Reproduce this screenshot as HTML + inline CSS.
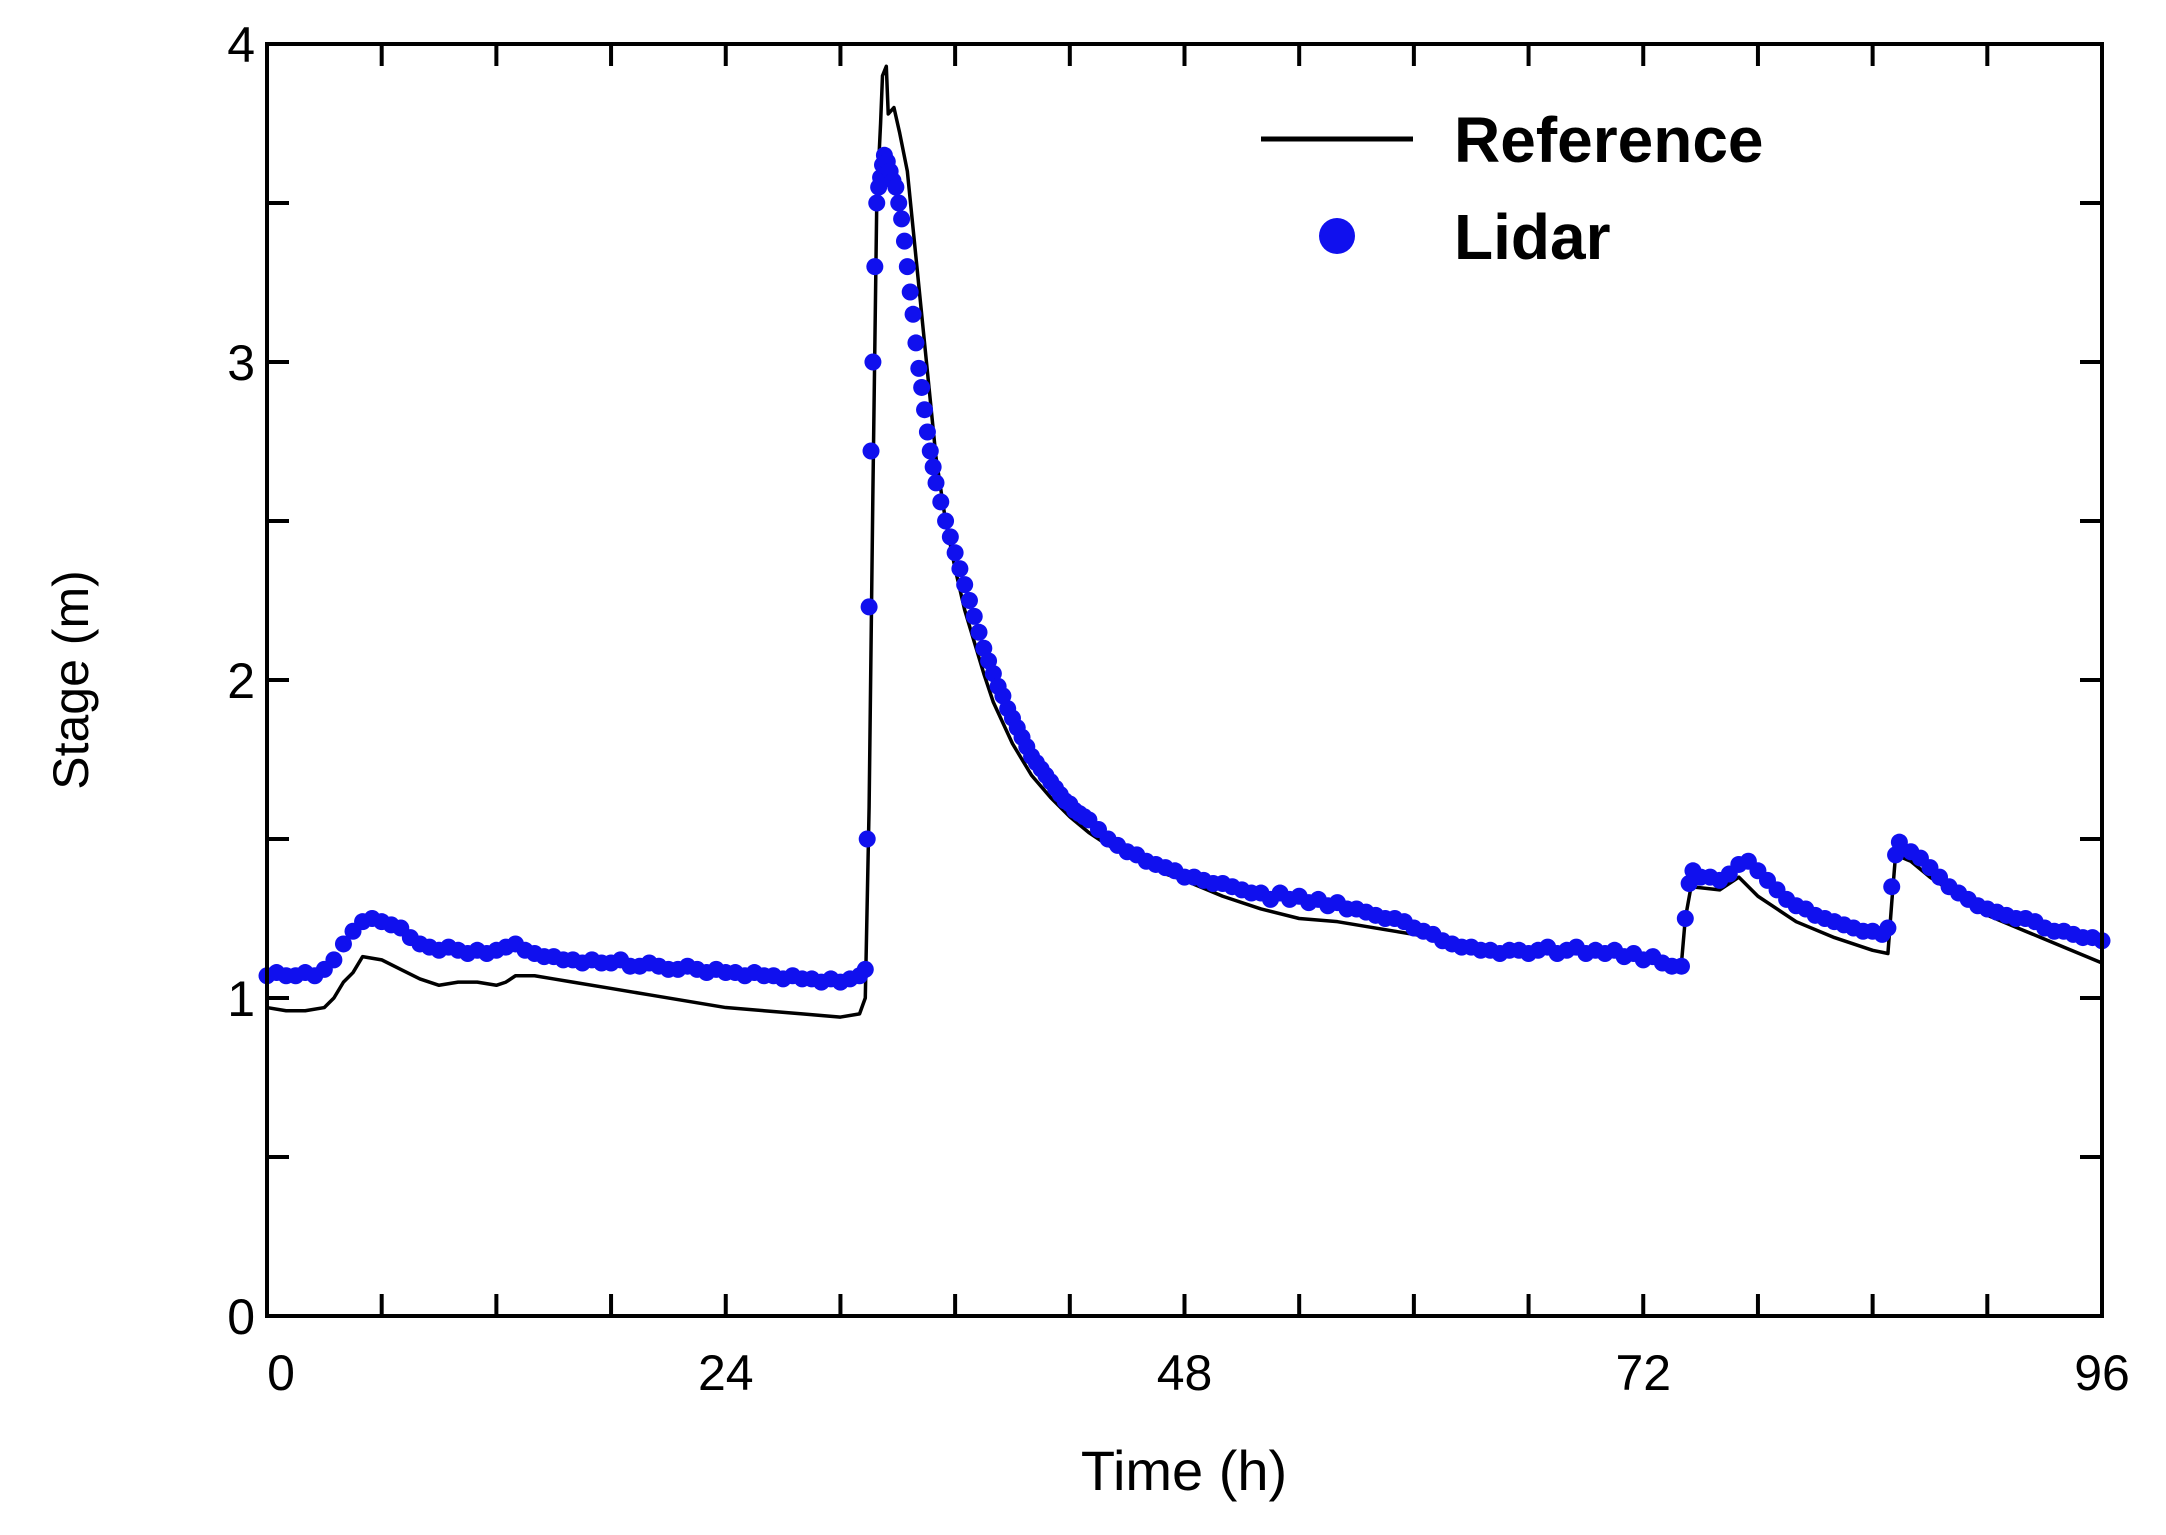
<!DOCTYPE html>
<html><head><meta charset="utf-8"><style>
html,body{margin:0;padding:0;background:#fff;}
svg{display:block;font-family:"Liberation Sans",Arial,sans-serif;}
</style></head><body>
<svg id="chart" width="2166" height="1535" viewBox="0 0 2166 1535" xmlns="http://www.w3.org/2000/svg">
<g id="ticks"></g>
<g id="series"></g>
<rect x="267" y="44" width="1835" height="1272" fill="none" stroke="#000" stroke-width="4"/>
<g id="labels" font-size="50" fill="#000"></g>
<text x="0" y="0" transform="translate(88,680) rotate(-90)" text-anchor="middle" font-size="50">Stage (m)</text>
<text x="1184" y="1490" text-anchor="middle" font-size="56">Time (h)</text>
<g>
<line x1="1261" y1="139" x2="1413" y2="139" stroke="#000" stroke-width="5"/>
<text x="1454" y="162" font-size="64" font-weight="bold">Reference</text>
<circle cx="1337" cy="236" r="18" fill="#1010ee"/>
<text x="1454" y="259" font-size="64" font-weight="bold">Lidar</text>
</g>
</svg>
<script>
const xTicks = [0,24,48,72,96];
const yTicks = [0,1,2,3,4];
const refData = [[0,0.97],[1,0.96],[2,0.96],[3,0.97],[3.5,1.0],[4,1.05],[4.5,1.08],[5,1.13],[6,1.12],[7,1.09],[8,1.06],[9,1.04],[10,1.05],[11,1.05],[12,1.04],[12.5,1.05],[13,1.07],[14,1.07],[15,1.06],[16,1.05],[18,1.03],[20,1.01],[22,0.99],[24,0.97],[26,0.96],[28,0.95],[30,0.94],[31,0.95],[31.3,1.0],[31.5,1.6],[31.7,2.6],[31.9,3.5],[32.1,3.75],[32.2,3.9],[32.4,3.93],[32.5,3.78],[32.8,3.8],[33.1,3.72],[33.5,3.6],[34,3.3],[34.5,3.0],[35,2.7],[35.5,2.5],[36,2.35],[36.5,2.22],[37,2.12],[37.5,2.02],[38,1.93],[39,1.8],[40,1.7],[41,1.63],[42,1.57],[43,1.52],[44,1.48],[45,1.45],[46,1.42],[47,1.39],[48,1.37],[50,1.32],[52,1.28],[54,1.25],[56,1.24],[58,1.22],[60,1.20],[62,1.18],[64,1.16],[66,1.15],[68,1.14],[70,1.14],[72,1.12],[74,1.11],[74.2,1.25],[74.5,1.35],[76,1.34],[77,1.38],[78,1.32],[79,1.28],[80,1.24],[82,1.19],[84,1.15],[84.8,1.14],[85,1.30],[85.2,1.45],[86,1.43],[87,1.38],[88,1.34],[90,1.26],[92,1.21],[94,1.16],[96,1.11]];
const lidarData = [[0,1.07],[0.5,1.08],[1,1.07],[1.5,1.07],[2,1.08],[2.5,1.07],[3,1.09],[3.5,1.12],[4,1.17],[4.5,1.21],[5,1.24],[5.5,1.25],[6,1.24],[6.5,1.23],[7,1.22],[7.5,1.19],[8,1.17],[8.5,1.16],[9,1.15],[9.5,1.16],[10,1.15],[10.5,1.14],[11,1.15],[11.5,1.14],[12,1.15],[12.5,1.16],[13,1.17],[13.5,1.15],[14,1.14],[14.5,1.13],[15,1.13],[15.5,1.12],[16,1.12],[16.5,1.11],[17,1.12],[17.5,1.11],[18,1.11],[18.5,1.12],[19,1.10],[19.5,1.10],[20,1.11],[20.5,1.10],[21,1.09],[21.5,1.09],[22,1.10],[22.5,1.09],[23,1.08],[23.5,1.09],[24,1.08],[24.5,1.08],[25,1.07],[25.5,1.08],[26,1.07],[26.5,1.07],[27,1.06],[27.5,1.07],[28,1.06],[28.5,1.06],[29,1.05],[29.5,1.06],[30,1.05],[30.5,1.06],[31,1.07],[31.3,1.09],[31.4,1.5],[31.5,2.23],[31.6,2.72],[31.7,3.0],[31.8,3.3],[31.9,3.5],[32.0,3.55],[32.1,3.58],[32.2,3.62],[32.3,3.65],[32.45,3.63],[32.6,3.6],[32.75,3.57],[32.9,3.55],[33.05,3.5],[33.2,3.45],[33.35,3.38],[33.5,3.3],[33.65,3.22],[33.8,3.15],[33.95,3.06],[34.1,2.98],[34.25,2.92],[34.4,2.85],[34.55,2.78],[34.7,2.72],[34.85,2.67],[35,2.62],[35.25,2.56],[35.5,2.5],[35.75,2.45],[36,2.4],[36.25,2.35],[36.5,2.3],[36.75,2.25],[37,2.2],[37.25,2.15],[37.5,2.1],[37.75,2.06],[38,2.02],[38.25,1.98],[38.5,1.95],[38.75,1.91],[39,1.88],[39.25,1.85],[39.5,1.82],[39.75,1.79],[40,1.76],[40.25,1.74],[40.5,1.72],[40.75,1.70],[41,1.68],[41.25,1.66],[41.5,1.64],[41.75,1.62],[42,1.61],[42.25,1.59],[42.5,1.58],[42.75,1.57],[43,1.56],[43.5,1.53],[44,1.5],[44.5,1.48],[45,1.46],[45.5,1.45],[46,1.43],[46.5,1.42],[47,1.41],[47.5,1.40],[48,1.38],[48.5,1.38],[49,1.37],[49.5,1.36],[50,1.36],[50.5,1.35],[51,1.34],[51.5,1.33],[52,1.33],[52.5,1.31],[53,1.33],[53.5,1.31],[54,1.32],[54.5,1.30],[55,1.31],[55.5,1.29],[56,1.30],[56.5,1.28],[57,1.28],[57.5,1.27],[58,1.26],[58.5,1.25],[59,1.25],[59.5,1.24],[60,1.22],[60.5,1.21],[61,1.20],[61.5,1.18],[62,1.17],[62.5,1.16],[63,1.16],[63.5,1.15],[64,1.15],[64.5,1.14],[65,1.15],[65.5,1.15],[66,1.14],[66.5,1.15],[67,1.16],[67.5,1.14],[68,1.15],[68.5,1.16],[69,1.14],[69.5,1.15],[70,1.14],[70.5,1.15],[71,1.13],[71.5,1.14],[72,1.12],[72.5,1.13],[73,1.11],[73.5,1.10],[74,1.10],[74.2,1.25],[74.4,1.36],[74.6,1.40],[75,1.38],[75.5,1.38],[76,1.37],[76.5,1.39],[77,1.42],[77.5,1.43],[78,1.40],[78.5,1.37],[79,1.34],[79.5,1.31],[80,1.29],[80.5,1.28],[81,1.26],[81.5,1.25],[82,1.24],[82.5,1.23],[83,1.22],[83.5,1.21],[84,1.21],[84.5,1.20],[84.8,1.22],[85,1.35],[85.2,1.45],[85.4,1.49],[86,1.46],[86.5,1.44],[87,1.41],[87.5,1.38],[88,1.35],[88.5,1.33],[89,1.31],[89.5,1.29],[90,1.28],[90.5,1.27],[91,1.26],[91.5,1.25],[92,1.25],[92.5,1.24],[93,1.22],[93.5,1.21],[94,1.21],[94.5,1.20],[95,1.19],[95.5,1.19],[96,1.18]];

const L=267,R=2102,T=44,B=1316;
const xs = h => L + h/96*(R-L);
const ys = v => B - v/4*(B-T);
const NS='http://www.w3.org/2000/svg';
const mk=(t,a,p)=>{const e=document.createElementNS(NS,t);for(const k in a)e.setAttribute(k,a[k]);p.appendChild(e);return e;};
const tg=document.getElementById('ticks'), sg=document.getElementById('series'), lg=document.getElementById('labels');
for(let h=0;h<=96;h+=6){
  const x=xs(h);
  const t1=mk('line',{x1:x,y1:B,x2:x,y2:B-22,stroke:'#000','stroke-width':4},tg);
  
  
  const t2=mk('line',{x1:x,y1:T,x2:x,y2:T+22,stroke:'#000','stroke-width':4},tg);
  
  
}
for(let v=0;v<=4;v+=0.5){
  const y=ys(v);
  const t1=mk('line',{x1:L,y1:y,x2:L+22,y2:y,stroke:'#000','stroke-width':4},tg);
  
  
  const t2=mk('line',{x1:R,y1:y,x2:R-22,y2:y,stroke:'#000','stroke-width':4},tg);
  
  
}
xTicks.forEach(h=>{
  const e=mk('text',{x:xs(h)+(h===0?14:0),y:B+74,'text-anchor':'middle'},lg);
  e.textContent=h;
  
  
});
yTicks.forEach(v=>{
  const e=mk('text',{x:L-12,y:ys(v)+18,'text-anchor':'end'},lg);
  e.textContent=v;
  
  
});
const line=mk('polyline',{points:refData.map(d=>xs(d[0])+','+ys(d[1])).join(' '),fill:'none',stroke:'#000','stroke-width':3.5,'stroke-linejoin':'round'},sg);


lidarData.forEach(d=>{
  const c=mk('circle',{cx:xs(d[0]),cy:ys(d[1]),r:8.5,fill:'#1010ee'},sg);
  
  
});
</script>
</body></html>
